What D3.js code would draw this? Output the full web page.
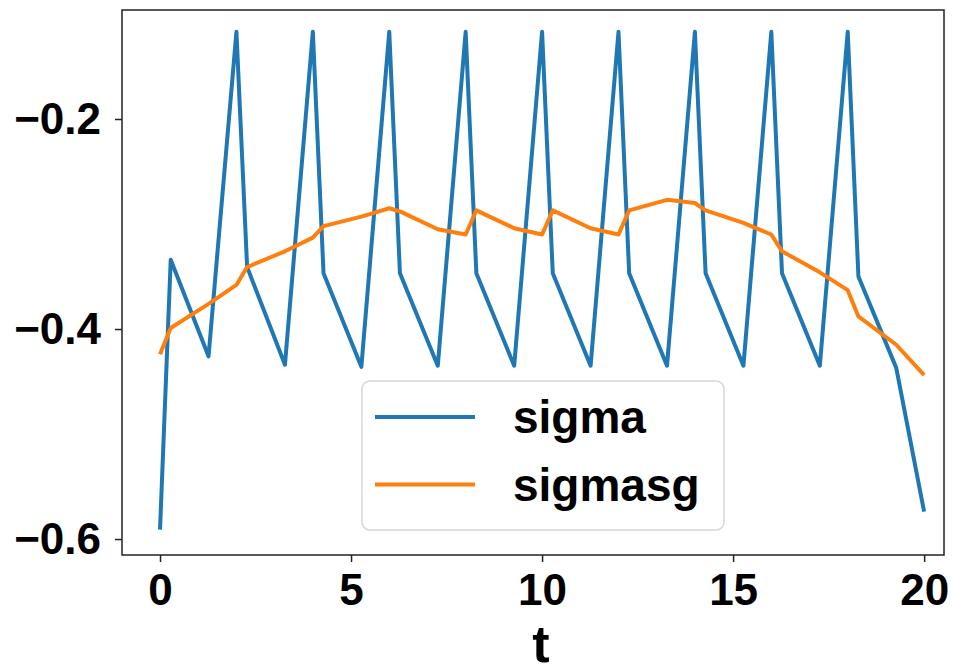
<!DOCTYPE html>
<html>
<head>
<meta charset="utf-8">
<script src="https://cdn.jsdelivr.net/npm/d3@7"></script>
<style>
  body { margin: 0; background: #fff; }
  svg { display: block; }
  text { font-family: "Liberation Sans", Arial, sans-serif; font-weight: bold; }
</style>
</head>
<body>
<div id="chart"></div>
<script>
// sample times (shared by both series)
var tValues = [0, 0.28, 1.27, 2, 2.28, 3.27, 4, 4.28, 5.27, 6, 6.28, 7.27, 8, 8.28, 9.27,
  10, 10.28, 11.27, 12, 12.28, 13.27, 14, 14.28, 15.27, 16, 16.28, 17.27, 18, 18.28, 19.27, 20];
var sigma = [-0.591, -0.334, -0.426, -0.117, -0.341, -0.434, -0.117, -0.347, -0.436,
  -0.117, -0.347, -0.435, -0.117, -0.347, -0.435, -0.117, -0.347, -0.435,
  -0.117, -0.347, -0.435, -0.117, -0.347, -0.435, -0.117, -0.347, -0.435,
  -0.117, -0.350, -0.437, -0.574];
var sigmasg = [-0.424, -0.399, -0.376, -0.358, -0.341, -0.326, -0.313, -0.302, -0.293,
  -0.285, -0.288, -0.305, -0.310, -0.287, -0.304, -0.310, -0.287, -0.304,
  -0.310, -0.287, -0.277, -0.280, -0.287, -0.299, -0.310, -0.326, -0.346,
  -0.363, -0.388, -0.415, -0.444];
var xTicks = [0, 5, 10, 15, 20];
var yTicks = [-0.6, -0.4, -0.2];
var seriesNames = ["sigma", "sigmasg"];
var colors = ["#1f77b4", "#ff7f0e"];

var W = 956, H = 672;
var mLeft = 122, mRight = 944, mTop = 10, mBottom = 555;

var svg = d3.select("#chart").append("svg").attr("width", W).attr("height", H);

var x = d3.scaleLinear().domain([-0.995, 20.52]).range([mLeft, mRight]);
var y = d3.scaleLinear().domain([-0.6152, -0.0962]).range([mBottom, mTop]);

// lines
var line = d3.line()
  .x(function (d) { return x(d[0]); })
  .y(function (d) { return y(d[1]); });

[sigma, sigmasg].forEach(function (vals, i) {
  svg.append("path")
    .datum(tValues.map(function (t, j) { return [t, vals[j]]; }))
    .attr("fill", "none")
    .attr("stroke", colors[i])
    .attr("stroke-width", 4)
    .attr("stroke-linejoin", "round")
    .attr("d", line);
});

// frame
svg.append("rect")
  .attr("x", mLeft).attr("y", mTop)
  .attr("width", mRight - mLeft).attr("height", mBottom - mTop)
  .attr("fill", "none").attr("stroke", "#222").attr("stroke-width", 1.5);

// x axis
var xAxis = svg.append("g")
  .attr("transform", "translate(0," + mBottom + ")")
  .call(d3.axisBottom(x).tickValues(xTicks).tickSize(7).tickPadding(12).tickFormat(d3.format("d")));
xAxis.select(".domain").remove();
xAxis.selectAll("line").attr("stroke", "#222").attr("stroke-width", 1.5);
xAxis.selectAll("text").style("font-size", "44px").attr("fill", "#000");

// y axis
var yAxis = svg.append("g")
  .attr("transform", "translate(" + mLeft + ",0)")
  .call(d3.axisLeft(y).tickValues(yTicks).tickSize(7).tickPadding(14)
    .tickFormat(function (d) { return "\u2212" + d3.format(".1f")(-d); }));
yAxis.select(".domain").remove();
yAxis.selectAll("line").attr("stroke", "#222").attr("stroke-width", 1.5);
yAxis.selectAll("text").style("font-size", "44px").attr("fill", "#000");

// x label
svg.append("text")
  .attr("x", (mLeft + mRight) / 2 + 8).attr("y", 662)
  .attr("text-anchor", "middle")
  .style("font-size", "52px")
  .text("t");

// legend
var lg = svg.append("g");
lg.append("rect")
  .attr("x", 362).attr("y", 381).attr("width", 362).attr("height", 149)
  .attr("rx", 8)
  .attr("fill", "#fff").attr("fill-opacity", 0.8)
  .attr("stroke", "#d6d6d6").attr("stroke-width", 1.5);
seriesNames.forEach(function (name, i) {
  var yy = 417 + i * 67.5;
  lg.append("line")
    .attr("x1", 375).attr("x2", 475).attr("y1", yy).attr("y2", yy)
    .attr("stroke", colors[i]).attr("stroke-width", 4);
  lg.append("text")
    .attr("x", 513).attr("y", yy + 16)
    .style("font-size", "46px")
    .text(name);
});
</script>
</body>
</html>
